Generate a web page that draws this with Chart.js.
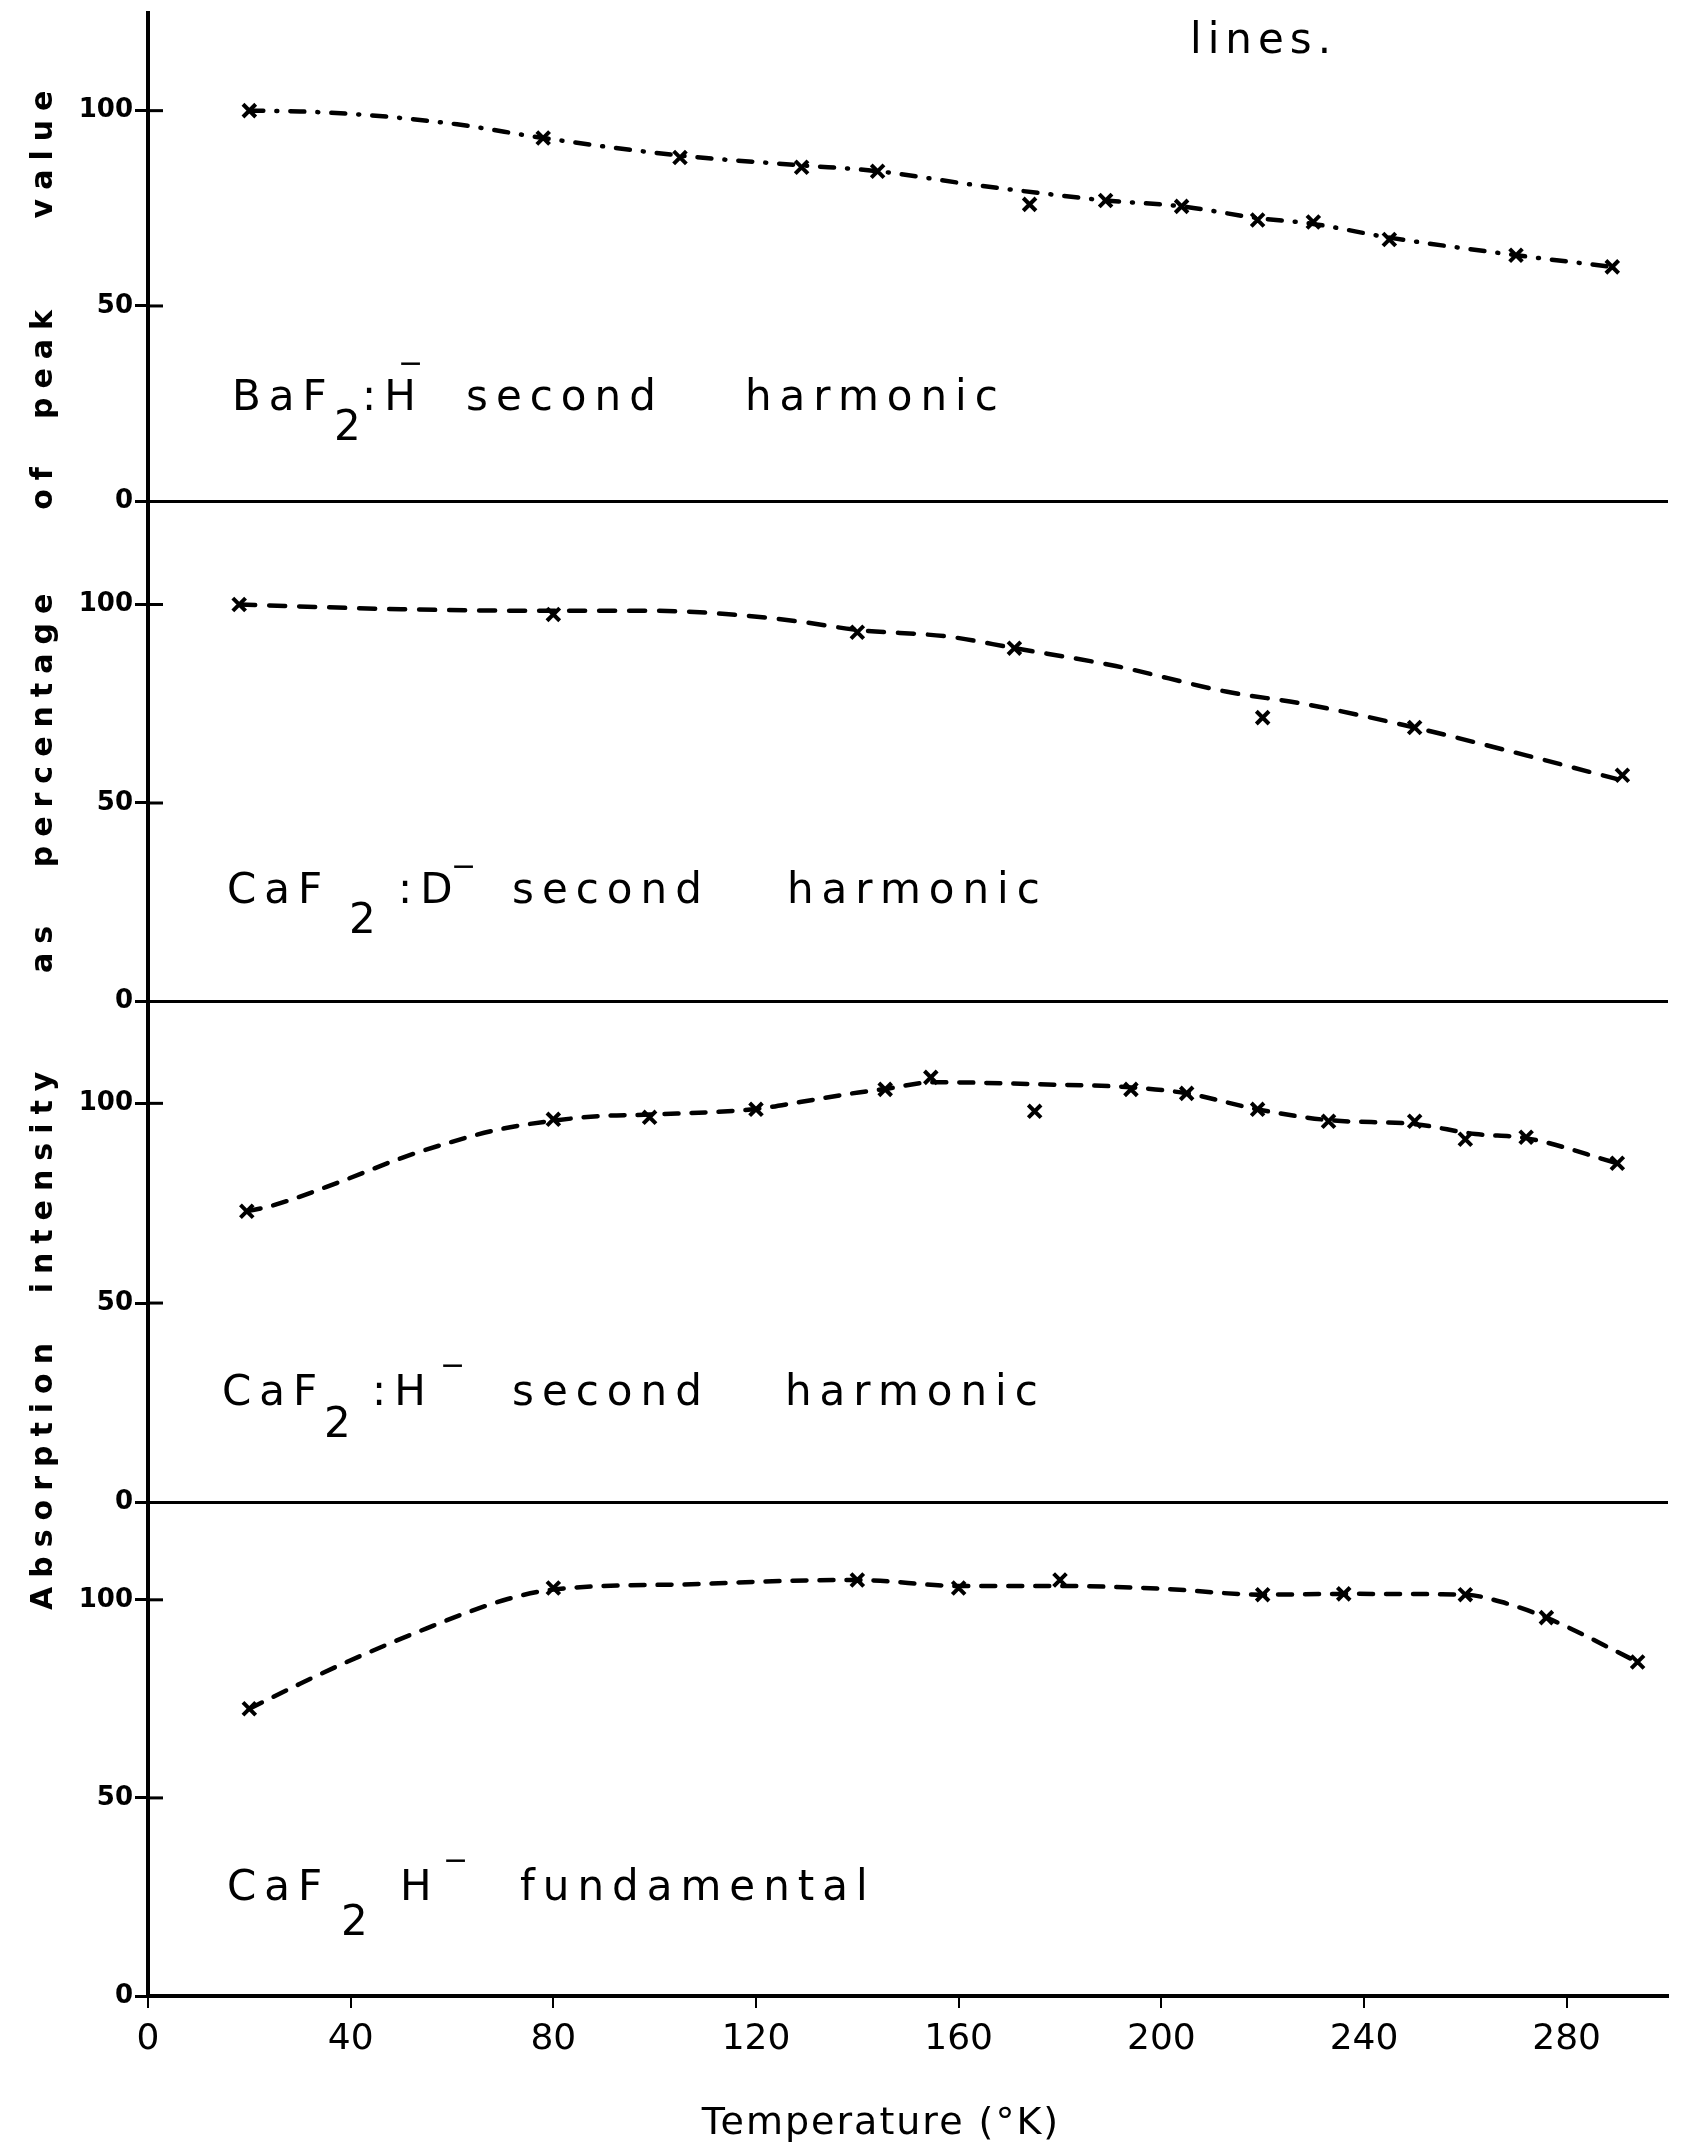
<!DOCTYPE html>
<html>
<head>
<meta charset="utf-8">
<title>Absorption intensity vs temperature</title>
<script src="https://cdn.jsdelivr.net/npm/chart.js@4.4.1/dist/chart.umd.min.js"></script>
<style>
html,body{margin:0;padding:0;background:#fff}
canvas{display:block}
</style>
</head>
<body>
<canvas id="intensityChart" width="1685" height="2155"></canvas>
<script>

const xTicks=[0,40,80,120,160,200,240,280]
const yTicks=[0,50,100]

// BaF2:H- second harmonic
const baH2Temp=[20,78,105,129,144,174,189,204,219,230,245,270,289]
const baH2Pct=[100,93,88,85.5,84.5,76,77,75.5,72,71.5,67,63,60]
const baH2CurveTemp=[20,30,44,61,78,105,129,144,163,178,189,204,219,230,245,270,289]
const baH2CurvePct=[100,99.8,98.8,96.5,93,88.5,86,84.5,81,78.6,77,75.5,72.5,71,67.5,63,60]

// CaF2:D- second harmonic
const caD2Temp=[18,80,140,171,220,250,291]
const caD2Pct=[100,97.5,93,89,71.5,69,57]
const caD2CurveTemp=[18,50,80,100,114,128,140,158,171,191,213,228,250,272,290]
const caD2CurvePct=[100,98.8,98.4,98.4,97.6,95.8,93.6,91.9,89,84.5,78,75,69,62,56]

// CaF2:H- second harmonic
const caH2Temp=[19.5,80,99,120,145.5,154.5,175,194,205,219,233,250,260,272,290]
const caH2Pct=[73,96,96.5,98.5,103.5,106.5,98,103.5,102.5,98.5,95.5,95.5,91,91.5,85]
const caH2CurveTemp=[19.5,24,38,50,59,69,79,89,99,120,129,139,145.5,155,175,194,205,219,233,250,262,272,290]
const caH2CurvePct=[73,74.2,80.4,86.3,90,93.4,95.5,96.8,97.2,98.6,100.4,102.5,103.6,105.3,104.8,104,102.5,98.5,95.8,94.8,92.3,91.3,85]

// CaF2 H- fundamental
const caH1Temp=[20,80,140,160,180,220,236,260,276,294]
const caH1Pct=[72.5,103,105,103,105,101.3,101.5,101.3,95.5,84.3]
const caH1CurveTemp=[20,30,38,47,55,63,71,80,109,126,140,160,180,200,220,236,260,267,276,294]
const caH1CurvePct=[72.5,78.8,83.6,88.6,92.8,96.8,100.2,102.6,104,104.8,105,103.5,103.5,102.8,101.3,101.5,101.3,99.5,95.5,84.3]

// panel lettering: text, x offset, y offset, font size
const captions=[
{x:232,y:410,parts:[["BaF",0,0],["2",102,30],[":H",130,0],["\u2212",166,-37,30],["second",234,0],["harmonic",513,0]]},
{x:227,y:903,parts:[["CaF",0,0],["2",122,30],[":D",171,0],["\u2212",224,-27,30],["second",285,0],["harmonic",560,0]]},
{x:222,y:1405,parts:[["CaF",0,0],["2",102,32],[":H",150,0],["\u2212",218,-30,30],["second",290,0],["harmonic",563,0]]},
{x:227,y:1900,parts:[["CaF",0,0],["2",114,35],["H",173,0],["\u2212",216,-30,30],["fundamental",293,0]]}
]

const yTitleWords=[["value",150],["peak",360],["of",484],["percentage",726],["as",945],["intensity",1178],["Absorption",1472]]

Chart.defaults.font.family="DejaVu Sans"
Chart.defaults.color="#000"

function pairs(xs,ys)
{
return xs.map((x,i)=>({x:x,y:ys[i]}))
}

function curveSet(xs,ys,axis,dash)
{
return {
data:pairs(xs,ys),
yAxisID:axis,
showLine:true,
borderColor:"#000",
borderWidth:4.5,
borderDash:dash,
borderCapStyle:"round",
cubicInterpolationMode:"monotone",
pointRadius:0,
pointHoverRadius:0
}
}

function markSet(xs,ys,axis)
{
return {
data:pairs(xs,ys),
yAxisID:axis,
showLine:false,
pointStyle:"crossRot",
pointRadius:9,
pointBorderWidth:4,
pointBorderColor:"#000",
pointBackgroundColor:"#000"
}
}

function panelAxis(max,weight)
{
return {
type:"linear",
position:"left",
stack:"panels",
stackWeight:weight,
min:0,
max:max,
afterBuildTicks:s=>{s.ticks=yTicks.map(v=>({value:v}))},
afterFit:s=>{s.width=148;s.paddingTop=0;s.paddingBottom=0},
border:{color:"#000",width:4},
grid:{
color:c=>(c.tick&&c.tick.value===0)?"#000":"rgba(0,0,0,0)",
tickColor:"#000",
lineWidth:3,
tickWidth:3,
tickLength:13
},
ticks:{color:"#000",padding:2,font:{family:"DejaVu Sans",weight:"bold",size:26}}
}
}

const lettering={
id:"lettering",
afterDraw(chart)
{
const ctx=chart.ctx
const area=chart.chartArea
ctx.save()
ctx.fillStyle="#000"
ctx.strokeStyle="#000"

// short tick stubs on the inner side of the axis
ctx.lineWidth=3
for(const id of ["p1","p2","p3","p4"])
{
const s=chart.scales[id]
for(const v of [50,100])
{
const y=s.getPixelForValue(v)
ctx.beginPath()
ctx.moveTo(area.left,y)
ctx.lineTo(area.left+15,y)
ctx.stroke()
}
}

ctx.textBaseline="alphabetic"
ctx.textAlign="left"
for(const c of captions)
{
for(const p of c.parts)
{
ctx.font=(p[3]||42)+'px "DejaVu Sans"'
ctx.letterSpacing="8px"
ctx.fillText(p[0],c.x+p[1],c.y+p[2])
}
}

ctx.font='42px "DejaVu Sans"'
ctx.letterSpacing="6px"
ctx.fillText("lines.",1190,53)

ctx.font='38px "DejaVu Sans"'
ctx.letterSpacing="2px"
ctx.textAlign="center"
ctx.fillText("Temperature (\u00b0K)",881,2134)

ctx.font='bold 30px "DejaVu Sans"'
ctx.letterSpacing="9px"
for(const w of yTitleWords)
{
ctx.save()
ctx.translate(52,w[1])
ctx.rotate(-Math.PI/2)
ctx.fillText(w[0],0,0)
ctx.restore()
}
ctx.letterSpacing="0px"
ctx.restore()
}
}

new Chart(document.getElementById("intensityChart"),
{
type:"scatter",
data:
{
datasets:[
curveSet(baH2CurveTemp,baH2CurvePct,"p1",[14,13,1,13]),
markSet(baH2Temp,baH2Pct,"p1"),
curveSet(caD2CurveTemp,caD2CurvePct,"p2",[16,14]),
markSet(caD2Temp,caD2Pct,"p2"),
curveSet(caH2CurveTemp,caH2CurvePct,"p3",[14,13]),
markSet(caH2Temp,caH2Pct,"p3"),
curveSet(caH1CurveTemp,caH1CurvePct,"p4",[14,13]),
markSet(caH1Temp,caH1Pct,"p4")
]
},
options:
{
responsive:false,
animation:false,
devicePixelRatio:1,
events:[],
layout:{padding:{top:10,right:17,bottom:0,left:0}},
plugins:{legend:{display:false},tooltip:{enabled:false}},
scales:
{
x:
{
type:"linear",
min:0,
max:300,
afterBuildTicks:s=>{s.ticks=xTicks.map(v=>({value:v}))},
afterFit:s=>{s.height=159},
border:{color:"#000",width:4},
grid:{drawOnChartArea:false,color:"#000",lineWidth:2,tickLength:12},
ticks:{color:"#000",padding:10,maxRotation:0,font:{family:"DejaVu Sans",size:36}}
},
p4:panelAxis(124.5,494),
p3:panelAxis(125.5,502),
p2:panelAxis(126,501),
p1:panelAxis(125,489)
}
},
plugins:[lettering]
})

</script>
</body>
</html>
